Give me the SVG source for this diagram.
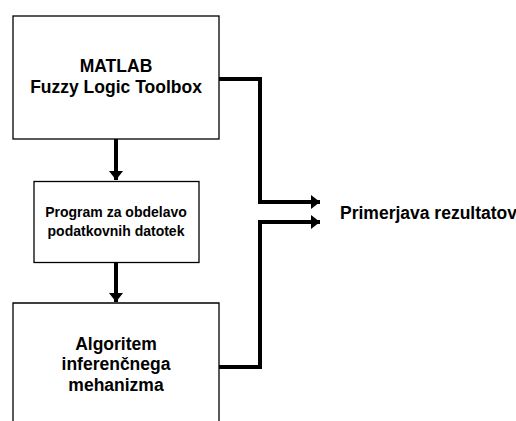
<svg xmlns="http://www.w3.org/2000/svg" width="516" height="421" viewBox="0 0 516 421">
<style>
.box{fill:#fff;stroke:#000;stroke-width:1.3}
.t{font-family:"Liberation Sans",Arial,sans-serif;font-weight:bold;fill:#000;text-anchor:middle}
.c{fill:none;stroke:#000;stroke-width:4;stroke-linejoin:miter}
</style>
<defs>
<marker id="ah" markerUnits="userSpaceOnUse" markerWidth="10" markerHeight="14" refX="9" refY="7" orient="auto" viewBox="0 0 10 14">
<path d="M0,0 L9,7 L0,14 Z" fill="#000"/>
</marker>
</defs>
<rect x="0" y="0" width="516" height="421" fill="#fff"/>
<g id="connectors">
<path class="c" d="M116,139 V180" marker-end="url(#ah)"/>
<path class="c" d="M116,263 V302" marker-end="url(#ah)"/>
<path class="c" d="M219,79 H260 V202 H320" marker-end="url(#ah)"/>
<path class="c" d="M219,367 H260 V222 H320" marker-end="url(#ah)"/>
</g>
<g id="matlab">
<rect class="box" x="13" y="16" width="206" height="123"/>
<text class="t" x="116" y="72" font-size="17.5">MATLAB</text>
<text class="t" x="116" y="93" font-size="17.5">Fuzzy Logic Toolbox</text>
</g>
<g id="program">
<rect class="box" x="34" y="181.5" width="165" height="81"/>
<text class="t" x="116" y="217" font-size="14">Program za obdelavo</text>
<text class="t" x="116" y="236" font-size="14">podatkovnih datotek</text>
</g>
<g id="algoritem">
<path class="box" d="M13,425 V303 H219 V425"/>
<text class="t" x="116" y="350" font-size="17.5">Algoritem</text>
<text class="t" x="116" y="370" font-size="17.5">inferenčnega</text>
<text class="t" x="116" y="391" font-size="17.5">mehanizma</text>
</g>
<g id="primerjava">
<text class="t" x="340" y="219" font-size="17.5" style="text-anchor:start">Primerjava rezultatov</text>
</g>
</svg>
